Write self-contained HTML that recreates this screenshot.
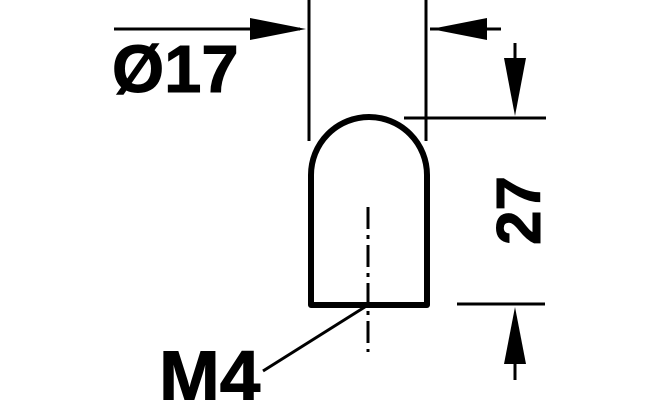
<!DOCTYPE html>
<html><head><style>
html,body{margin:0;padding:0;background:#fff;width:659px;height:400px;overflow:hidden}
</style></head><body>
<svg width="659" height="400" viewBox="0 0 659 400" xmlns="http://www.w3.org/2000/svg">
<g stroke="#000" fill="none">
<line x1="114" y1="29" x2="300" y2="29" stroke-width="3"/>
<line x1="309" y1="0" x2="309" y2="141" stroke-width="3"/>
<line x1="426" y1="0" x2="426" y2="141" stroke-width="3"/>
<line x1="430" y1="29" x2="501" y2="29" stroke-width="3"/>
<line x1="404" y1="118" x2="546" y2="118" stroke-width="3"/>
<line x1="515" y1="43" x2="515" y2="70" stroke-width="3"/>
<line x1="457" y1="304" x2="545" y2="304" stroke-width="3"/>
<line x1="515" y1="360" x2="515" y2="380" stroke-width="3"/>
<path d="M311 305 V175 A58 58 0 0 1 427 175 V305 Z" stroke-width="6" stroke-linejoin="round"/>
<line x1="368" y1="207" x2="368" y2="352" stroke-width="3" stroke-dasharray="22 6 4 6"/>
<line x1="263" y1="371" x2="368" y2="305" stroke-width="3"/>
</g>
<g fill="#000">
<polygon points="250,18 306,29 250,40"/>
<polygon points="487,18 431,29 487,40"/>
<polygon points="504,58 526,58 515,116"/>
<polygon points="504,364 526,364 515,307"/>
</g>
<g font-family="Liberation Sans, sans-serif" font-weight="bold" fill="#000">
<text x="112" y="92" font-size="67" stroke="#000" stroke-width="1">Ø17</text>
<text x="159" y="402" font-size="73" stroke="#000" stroke-width="1">M4</text>
<text transform="translate(540,245) rotate(-90)" font-size="62" stroke="#000" stroke-width="1">27</text>
</g>
</svg>
</body></html>
